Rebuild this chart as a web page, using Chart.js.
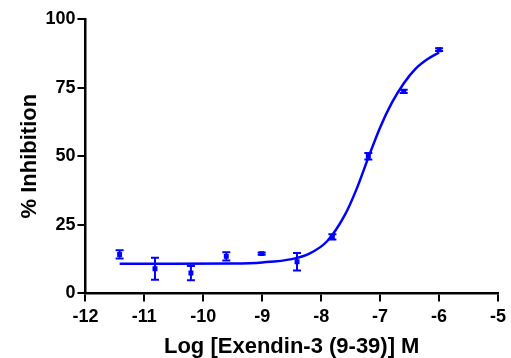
<!DOCTYPE html>
<html>
<head>
<meta charset="utf-8">
<script src="https://cdn.jsdelivr.net/npm/chart.js@4/dist/chart.umd.min.js"></script>
<style>
  html, body { margin: 0; padding: 0; background: #fff; }
  #wrap { width: 511px; height: 358px; }
</style>
</head>
<body>
<div id="wrap"><canvas id="chart" width="511" height="358"></canvas></div>
<script>
// measured points (mean +/- SEM)
const logDose = [-11.42, -10.82, -10.21, -9.61, -9.01, -8.41, -7.81, -7.20, -6.60, -6.00];
const inhibition = [14.2, 9.0, 7.4, 13.5, 14.5, 11.5, 20.6, 50.0, 73.6, 88.8];
const sem = [1.5, 4.0, 2.6, 1.5, 0.4, 3.2, 1.0, 1.2, 0.6, 0.5];

// fitted curve
const fitDose = [-11.42, -10.5, -9.5, -9.0, -8.5, -8.2, -7.9, -7.6, -7.4, -7.2, -7.0, -6.8, -6.6, -6.4, -6.2, -6.0];
const fitInhibition = [10.8, 10.8, 10.9, 11.3, 12.5, 14.5, 19.0, 28.5, 38.0, 49.5, 60.5, 69.5, 76.5, 81.8, 85.3, 87.8];

const xTicks = [-12, -11, -10, -9, -8, -7, -6, -5];
const yTicks = [0, 25, 50, 75, 100];

const blue = "rgb(0,0,255)";
const fontFamily = "'Liberation Sans', Arial, sans-serif";

const errorBars = {
  id: "errorBars",
  afterDatasetsDraw(chart) {
    const { ctx, scales: { x, y } } = chart;
    ctx.save();
    ctx.strokeStyle = blue;
    ctx.lineWidth = 2;
    logDose.forEach((d, i) => {
      const px = x.getPixelForValue(d);
      const top = y.getPixelForValue(inhibition[i] + sem[i]);
      const bot = y.getPixelForValue(inhibition[i] - sem[i]);
      ctx.beginPath();
      ctx.moveTo(px, top); ctx.lineTo(px, bot);
      ctx.moveTo(px - 4, top); ctx.lineTo(px + 4, top);
      ctx.moveTo(px - 4, bot); ctx.lineTo(px + 4, bot);
      ctx.stroke();
    });
    ctx.restore();
  }
};

const ctx = document.getElementById("chart").getContext("2d");
new Chart(ctx, {
  type: "scatter",
  data: {
    datasets: [
      {
        label: "fit",
        data: fitDose.map((d, i) => ({ x: d, y: fitInhibition[i] })),
        showLine: true,
        borderColor: blue,
        borderWidth: 2.5,
        pointRadius: 0,
        cubicInterpolationMode: "monotone",
        fill: false
      },
      {
        label: "data",
        data: logDose.map((d, i) => ({ x: d, y: inhibition[i] })),
        showLine: false,
        pointStyle: "rect",
        pointRadius: 3.5,
        backgroundColor: blue,
        borderColor: blue,
        borderWidth: 0
      }
    ]
  },
  options: {
    responsive: false,
    animation: false,
    layout: { padding: { left: 17, top: 19, right: 2, bottom: 0 } },
    plugins: { legend: { display: false }, tooltip: { enabled: false } },
    scales: {
      x: {
        type: "linear",
        min: -12,
        max: -5,
        afterBuildTicks: (s) => { s.ticks = xTicks.map(v => ({ value: v })); },
        ticks: { color: "#000", font: { family: fontFamily, size: 18, weight: "bold" }, padding: 5 },
        grid: { drawOnChartArea: false, tickLength: 8, color: "#000", lineWidth: 2 },
        border: { color: "#000", width: 2.5 },
        title: { display: true, text: "Log [Exendin-3 (9-39)] M", color: "#000", font: { family: fontFamily, size: 22, weight: "bold", lineHeight: 1.0 }, padding: { top: 3, bottom: 0 } }
      },
      y: {
        min: 0,
        max: 100,
        afterBuildTicks: (s) => { s.ticks = yTicks.map(v => ({ value: v })); },
        ticks: { color: "#000", font: { family: fontFamily, size: 18, weight: "bold" }, padding: 2 },
        grid: { drawOnChartArea: false, tickLength: 8, color: "#000", lineWidth: 2 },
        border: { color: "#000", width: 2.5 },
        title: { display: true, text: "% Inhibition", color: "#000", font: { family: fontFamily, size: 22, weight: "bold" }, padding: { top: 0, bottom: 0 } }
      }
    }
  },
  plugins: [errorBars]
});
</script>
</body>
</html>
